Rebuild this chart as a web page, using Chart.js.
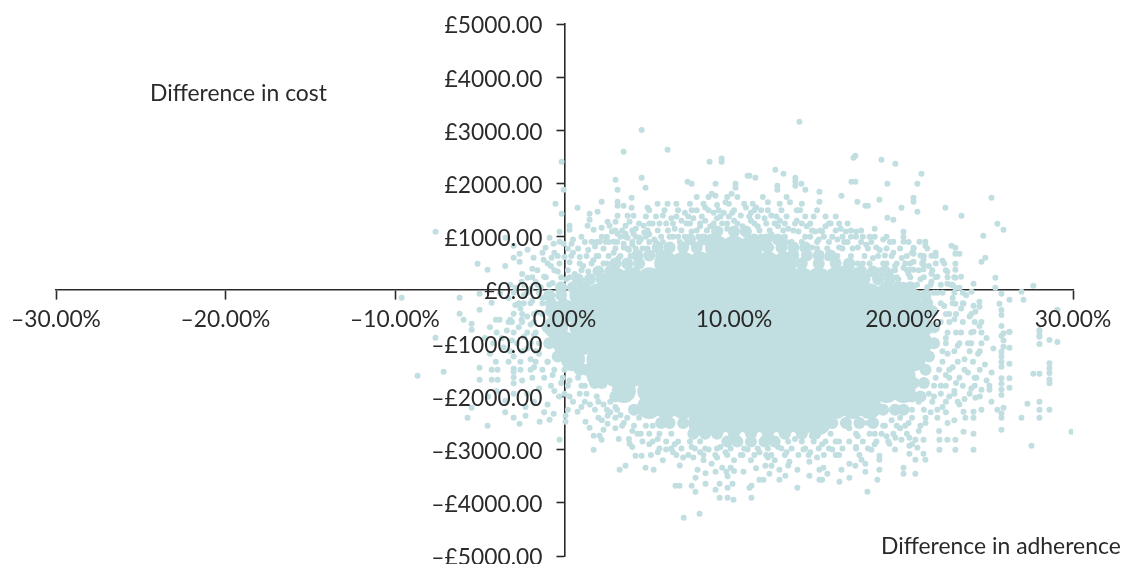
<!DOCTYPE html>
<html><head><meta charset="utf-8">
<style>html,body{margin:0;padding:0;background:#fff;overflow:hidden}canvas{display:block}</style>
<script src="https://cdn.jsdelivr.net/npm/chart.js@4/dist/chart.umd.min.js"></script>
</head><body><canvas id="c" width="1123" height="564"></canvas>
<script>
const xTickLabels=["–30.00%","–20.00%","–10.00%","0.00%","10.00%","20.00%","30.00%"];
const yTickLabels=["–£5000.00","–£4000.00","–£3000.00","–£2000.00","–£1000.00","£0.00","£1000.00","£2000.00","£3000.00","£4000.00","£5000.00"];
const xAxisName="Difference in adherence";
const yAxisName="Difference in cost";
// dense body of the cloud, read row by row: [cost difference, adherence differences]
const denseRows=[
[800,[9,10,11]],
[500,[6,7,8,9,10,11,12,13]],
[200,[3,4,5,6,7,8,9,10,11,12,13,14,15,16,17]],
[-100,[1,2,3,4,5,6,7,8,9,10,11,12,13,14,15,16,17,18,19,20]],
[-400,[0,1,2,3,4,5,6,7,8,9,10,11,12,13,14,15,16,17,18,19,20,21]],
[-700,[-0.5,1,2,3,4,5,6,7,8,9,10,11,12,13,14,15,16,17,18,19,20,21]],
[-1000,[0,1,2,3,4,5,6,7,8,9,10,11,12,13,14,15,16,17,18,19,20,21]],
[-1300,[0.5,2,3,4,5,6,7,8,9,10,11,12,13,14,15,16,17,18,19,20,20.6]],
[-1600,[2,3,4,5,6,7,8,9,10,11,12,13,14,15,16,17,18,19,20]],
[-1900,[3.5,5,6,7,8,9,10,11,12,13,14,15,16,17,18,19,20]],
[-2200,[5,6,7,8,9,10,11,12,13,14,15,16,17,18]],
[-2500,[8,9,10,11,12,13,14,15]]
];
// rim of the dense body, same layout
const rimRows=[
[1100,[9,10,10.7]],
[950,[7.4,8.2,11.2,11.9,12.6]],
[800,[5.5,6.2,7,7.8,12,12.8,13.5,14.2]],
[650,[4.3,5,5.7,13.5,14.3,15,15.7]],
[500,[3,3.7,4.4,14,15,16,16.8]],
[350,[2,2.7,16.5,17.5,18.2,18.9]],
[200,[0.8,1.5,2.2,17.7,18.5,19.2]],
[50,[-0.2,0.5,1.2,19,19.7,20.4]],
[-100,[-0.9,-0.2,20.7,21.3]],
[-250,[-0.8,21.4]],
[-400,[-0.8,21.7]],
[-700,[-1,21.8]],
[-1000,[-0.9,21.8]],
[-1250,[-0.4,21.5]],
[-1500,[0.9,1.3,21.3]],
[-1750,[1.8,2.2,20.6,21.2]],
[-2000,[3,3.5,20.5,21]],
[-2250,[4.1,4.6,5.2,18.8,19.5,20]],
[-2500,[5.7,6.2,7,15.8,16.6,17.4,18.2]],
[-2700,[7.6,8.3,9,10,11,12,13,14,14.8]],
[-2850,[9.6,10.2,11,11.8,12.4]]
];
// thick scatter around the rim, same layout
const fringeRows=[
[1750,[7.8,8.5,9.6,11.7,13.1]],
[1620,[6.6,7.4,8.2,9.7,10.6,11.1,12.7,14]],
[1500,[5,5.9,6.7,7.5,8.5,9.1,10,11.2,12,13.7,14.9]],
[1380,[4.8,5.4,6.6,7.3,8.1,9.2,9.7,10.9,11.4,12.5,13.1,14.2,14.7,15.4,16]],
[1250,[4.4,5,5.6,6.4,7.4,8,8.8,9.6,10.2,11.2,11.9,12.4,13,13.6,14,14.5,15.6,16.2]],
[1120,[3,3.4,4,4.9,5.5,6.1,6.9,7.8,8.4,9.2,10.7,11.5,12.1,12.9,13.5,14.6,15.1,16,16.9,17.5]],
[1000,[2.5,3.6,4.2,4.8,5.7,6.4,7.1,8.6,11.6,12.3,14.5,15.3,16.4,17.2,18.3,19]],
[900,[1.2,1.9,2.6,3.1,4,4.4,5,5.4,6.8,13.1,14,14.9,15.6,16.7,17.5,18.1,19.2,20.3]],
[780,[0.2,0.8,2.3,3,3.7,4.2,4.9,14.9,15.5,16.4,17,17.9,19,19.8,20.6,21.4]],
[640,[-0.4,0.4,1.3,1.9,2.6,3.3,3.9,16.1,16.9,17.7,18.5,19.3,20.2,21.2,21.9]],
[500,[-1,-0.3,0.9,1.6,2.3,17.3,18,18.8,19.6,20.4,21.1,21.9,22.4]],
[370,[-1.6,-0.6,0.2,1,18.6,19.5,20.2,20.9,21.7,22.5]],
[240,[-1.9,-1.1,-0.2,0.3,19.6,20.4,21.2,21.9,22.6,23]],
[100,[-2.4,-1.6,-0.9,20.8,21.6,22.2,22.9]],
[-50,[-3,-2.2,-1.5,21.8,22.3,23,23.5]],
[-250,[-2.7,-2,-1.3,22.2,22.9,23.5]],
[-450,[-2.5,-1.8,-1.3,22.5,23.1,24]],
[-600,[-3.1,-2.5,-1.8,22.7,23.5,24.2]],
[-800,[-3,-2.2,-1.7,22.6,23.1,24,24.6]],
[-1000,[-2.8,-2,22.5,23.3,23.8,24.6]],
[-1150,[-3.2,-2.5,-1.7,22.3,23,23.9,24.5]],
[-1350,[-2.6,-1.7,-1,22.3,23.2,24.1]],
[-1500,[-2,-0.6,0,22.1,22.7,23.6,24.5]],
[-1650,[-1.2,-0.1,0.8,21.9,22.7,23.3,24.2]],
[-1800,[-0.8,0.2,1,21.8,22.5,23.5,24.2]],
[-1950,[0,1.3,21.5,22.2,23,23.9]],
[-2100,[0.5,1.2,2,2.7,20.9,21.7,22.5,23.2]],
[-2250,[1.8,2.5,3.1,20.5,21.2,22]],
[-2400,[2,3,3.7,4.4,19.8,20.5,21.3]],
[-2550,[3.4,4.1,4.8,5.2,18.9,19.6,20.1,21]],
[-2700,[4.3,5,5.6,6.3,17.2,18,18.7,19.4,20.2]],
[-2850,[4.6,5.2,6,6.7,7.4,8,13.2,14,14.7,15.4,16,16.8,17.6,18.4,19.1]],
[-2980,[5.6,6.3,6.9,7.7,8.3,9,9.8,10.6,11.4,12,12.8,13.4,14.2,15,15.6,16.4,17.2,17.9]],
[-3100,[6.6,7.3,8.2,8.9,9.6,10.4,11.2,11.9,13,13.8,14.4,15.3,16.2]]
];
// individually visible simulations: adherence %, cost £
const outerPoints=[
[4.55,3007],[3.49,2600],[6.08,2637],[8.56,2412],[9.27,2474],[9.27,2412],[-0.17,2412],[-0.05,1885],[3.01,2073],[3.13,1885],[4.55,2111],[4.78,1923],[3.96,1735],[7.26,2036],[7.5,1998],[8.91,1998],[10.09,1998],[10.09,1923],[10.8,2149],[8.68,1810],[8.91,1773],[9.86,1810],[-0.53,1622],[0.77,1547],[2.19,1660],[3.13,1660],[3.13,1585],[3.49,1585],[3.96,1547],[4.9,1547],[5.49,1622],[6.08,1622],[1.95,1472],[1.48,1434],[1.48,1321],[-0.17,1434],[0.3,1209],[0.3,1133],[1.36,1209],[2.19,1171],[1.72,1133],[2.54,1284],[2.66,1209],[3.01,1284],[3.13,1397],[3.72,1397],[4.07,1397],[3.84,1284],[3.6,1209],[4.67,1209],[-7.61,1096],[-0.29,1096],[3.13,1058],[3.6,1058],[4.07,1058],[4.43,983],[3.72,983],[1.6,908],[2.07,908],[2.42,908],[2.9,908],[3.49,870],[-3.48,983],[-0.88,983],[-0.64,870],[-0.29,908],[-0.05,870],[0.42,870],[-3,833],[-1.12,795],[-2.18,757],[-2.65,682],[-3,607],[-1.82,607],[-0.76,607],[-1.23,570],[-2.65,532],[-5.13,494],[-4.54,382],[-2.18,231],[-2.53,156],[-2.89,43],[-6.19,-145],[-9.61,-145],[-5.01,-70],[-6.19,-445],[-5.95,-558],[-5.01,-370],[-5.48,-634],[-5.48,-746],[-3.83,-558],[-4.05,-558],[-3,-445],[-2.53,-558],
[-8.67,-1610],[-7.13,-1535],[-7.61,-896],[-5.01,-1460],[-5.01,-1686],[-4.3,-1686],[-3.95,-1686],[-4.05,-1350],[-3.95,-1498],[-3,-1535],[-3,-1640],[-3,-1755],[-5.48,-2212],[-5.72,-2400],[-4.54,-2550],[-3,-2400],[-2.65,-2513],[-2.3,-2362],[-1.47,-2475],[-0.88,-2438],[-0.64,-2325],[0.06,-2475],[0.06,-2362],[-0.29,-2813],[1.72,-3002],[0.77,-2287],[1.24,-2475],[1.48,-2588],[1.72,-2738],[2.07,-2738],[2.19,-2813],[2.54,-2513],[2.54,-2362],[2.3,-2626],[3.25,-3377],[3.6,-3302],[4.19,-3114],[4.55,-3114],[3.84,-2889],[4.78,-3340],[5.26,-3377],[6.55,-3678],[6.79,-3678],[7.5,-3678],[7.73,-3791],[7.73,-3528],[7.85,-3377],[7.03,-4280],[7.97,-4205],[8.32,-3641],[8.32,-3446],[8.91,-3754],[9.15,-3904],[9.62,-3904],[9.97,-3941],[9.15,-3641],[9.62,-3716],[9.62,-3500],[8.68,-3265],[8.91,-3415],[9.3,-3340],[9.55,-3415],[9.8,-3340],[9.91,-3641],[10.56,-3415],[10.91,-3716],
[11.03,-3904],[11.03,-3678],[11.5,-3565],[11.74,-3565],[12.09,-3453],[11.85,-3302],[12.21,-3302],[12.68,-3565],[13.03,-3490],[12.68,-3377],[13.74,-3716],[13.27,-3227],[13.74,-3377],[14.45,-3490],[14.45,-3227],[15.04,-3565],[15.2,-3565],[15.04,-3377],[15.28,-3340],[15.51,-3453],[16.22,-3603],[16.34,-3377],[16.81,-3528],[16.81,-3265],[17.16,-3302],[17.87,-3791],[17.75,-3415],[17.75,-3265],[17.52,-3190],[18.46,-3565],[18.58,-3377],[18.58,-3190],[18.58,-3114],[18.11,-3002],[20,-3453],[20,-3340],[20.7,-3453],[20.7,-3190],[21.29,-3190],[20.35,-3077],[21.18,-3077],[20.35,-2926],[20.82,-2964],[19.17,-2889],[19.52,-2776],[19.88,-2813],[20.35,-2776],[20.7,-2813],[21.18,-2813],[22.12,-3002],[23.06,-3002],[24.13,-3002],[22.12,-2813],[22.59,-2813],[23.06,-2813],[23.54,-2663],[24.13,-2701],[25.78,-2626],[27.55,-2926],[29.91,-2663],[26.96,-2400],[27.31,-2137],[28.02,-2099],[28.02,-2250],[28.02,-2400],[28.61,-2250],[27.66,-1573],[28.02,-1573],[28.61,-1379],[28.61,-1470],[28.61,-1560],[28.61,-1755],[28.61,-1680],[28.02,-1015],[28.02,-880],[28.02,-785],[28.61,-940],[29.08,-978],[25.78,-2400],[25.78,-2320],[25.54,-2250],[25.9,-2212],[24.6,-2250],[24.13,-2287],[24.13,-2400],[23.65,-2400],[23.54,-2287],[25.19,-2099],[24.24,-2024],[24.6,-1874],[25.07,-1874],[25.07,-1800],[25.78,-1160],[25.78,-1250],[25.78,-1350],[25.78,-1441],[25.78,-1660],[25.78,-1760],[25.78,-1870],[25.78,-1974],[26.25,-1084],[26.25,-1385],[26.25,-1660],[26.25,-1836],[25.9,-815],[25.9,-950],[25.9,-1065],[26.25,-785],
[13.86,3164],[17.16,2525],[17.05,2487],[18.7,2449],[19.52,2374],[21.06,2186],[20.82,1998],[19.05,1998],[16.93,2036],[17.16,2036],[12.44,2261],[12.92,2186],[13.62,2111],[13.62,2040],[13.62,1961],[13.98,1998],[14.21,1885],[11.26,2111],[10.91,2149],[12.56,1961],[12.56,1885],[15.04,1848],[15.04,1660],[16.34,1773],[17.28,1660],[17.75,1585],[17.9,1585],[18.58,1697],[20.59,1735],[20.59,1660],[19.88,1547],[20.82,1472],[22.47,1547],[23.42,1397],[25.19,1735],[25.54,1246],[25.9,1133],[24.71,1021],[24.83,607],[24.6,532],[19.05,1359],[19.4,1321],[20,1096],[20,1000],[20,908],[19.4,908],[20.94,908],[21.29,908],[21.29,833],[20.59,795],[20.59,682],[20.59,532],[22.83,833],[23.06,795],[23.06,682],[23.3,682],[21.65,645],[21.18,570],[21.18,480],[21.18,390],[23.06,494],[23.06,382],[23.06,231],[22.59,344],[22.59,118],[23.06,43],[23.3,43],[21.65,306],[21.65,156],[20,419],[20.35,382],[20.59,382],[24.13,118],[25.42,231],[25.42,43],[27.66,81],[24.01,-32],[25.78,-70],[26.96,-32],[26.25,-182],[27.08,-182],[29.08,-370],[28.02,-752],[28.02,-860],[25.66,-258],[25.78,-377],[25.78,-470],[25.78,-677],[25.78,-860],[26.25,-790],[24.48,-220],[24.48,-314],[24.24,-408],[24.13,-295],[24.48,-677],[24.13,-784],[23.54,-258],[23.06,-258]
];
// ragged edge of the dense body
const edgePoints=[
[0.5,700],[0.9,620],[0.3,520],[1.1,450],[1.7,560],[2,640],[2.5,500],[2.9,700],[3.2,600],[3.5,800],[1.4,350],[0.6,300],[0.1,200],[-0.4,350],[-0.8,450],[-1.2,250],[-1.7,150],[-1.4,50],[-0.7,130],[-2,20],[-2.4,-100],[-1.9,-200],[-1.3,-150],[-2.9,-280],[-2.6,-350],[-3.2,-560],[-2.2,-500],[-1.6,-420],[-2,-650],[-2.7,-700],[-3.4,-760],[-4,-800],[-3.7,-900],[-3.1,-950],[-2.4,-880],[-1.8,-850],[-1.5,-1000],[-2.2,-1100],[-3,-1250],[-3.6,-1080],[-4.2,-1000],[-4.4,-1200],[-2,-1300],[-1.5,-1200],[-1,-1350],[-1.3,-1500],[-0.7,-1600],[-1.9,-1650],[-2.5,-1700],[-3,-1480],[-0.2,-1750],[0.3,-1700],[-0.6,-1900],[-1.5,-1850],[-2.2,-1950],[-3,-1950],[-4,-1900],[-4.5,-2000],[-3.5,-2080],[-1.8,-2100],[-1,-2150],[-0.3,-2000],[0.3,-2000],[0.9,-1950],[1.5,-2150],[1.9,-2000],[2.3,-2150],[3,-2200],[1.2,-1800],
[4,850],[4.5,950],[5,1050],[5.5,800],[5.8,900],[6.2,1000],[6.5,1150],[6.9,1300],[7.2,1250],[7.5,1100],[7.9,1000],[8.3,1300],[8.6,1200],[9,1350],[9.3,1250],[9.6,1150],[5.2,1250],[5.8,1400],[6.3,1350],[7.8,1500],[8.3,1550],[8.8,1450],[9.9,1450],[10.4,1400],[10.7,1550],[11,1300],[11.4,1200],[11.8,1350],[12.2,1050],[12.6,1200],[13,1000],[13.4,900],[13.8,1100],[14.2,1000],[14.6,800],[15,950],[15.4,1200],[15.8,1000],[16.2,800],[16.5,900],[16.9,1000],[17.3,800],[17.8,850],[18.2,600],[18.6,750],[19,500],[19.3,350],[19.7,200],[20,100],[20.4,-50],[17.6,500],[18,300],[16.6,500],[15.5,600],[14.2,650],[13.5,750],[12.2,800],[11.3,1550],[12,1650],[12.8,1500],[13.3,1650],[13.9,1500],[9.5,1650],[9,1600],[10.2,1750],[15.2,1100],[16.3,1150],[16.7,1250],[18.3,1150],[18.8,950],[19.4,700],[19.9,600],[20.3,300],[21,200],[21.4,50],[22,-50],[22.4,-300],[22.7,-450],[22.2,-600],[23,-550],[23.4,-800],[22.5,-900],[23.2,-1050],[24,-1000],[24.4,-1200],[23.6,-1300],[22.6,-1200],[22.9,-1450],[23.8,-1550],[24.3,-1650],[24,-1850],[23.1,-1750],[22.5,-1600],[22.2,-1800],[22.7,-2000],[23.3,-2150],[22.3,-2200],[21.8,-2000],[21.6,-2300],[22,-2400],[22.6,-2500],[21.3,-2500],[20.9,-2650],[20.3,-2500],[19.8,-2600],[19.3,-2450],[18.8,-2550],[18.3,-2700],[17.9,-2500],[17.3,-2750],[16.8,-2600],[16.2,-2850],[15.7,-2700],[15.2,-2900],[14.6,-2750],[14.1,-3000],[13.6,-2800],[13.1,-3050],[12.6,-2950],[12,-3150],[11.5,-3050],[11,-3200],[10.5,-3100],[10,-3200],[9.5,-3050],[9,-3150],[8.5,-3000],[8,-3050],[7.5,-2950],[7,-3150],[6.5,-2900],[6,-3000],[5.5,-2800],[5,-2900],[4.5,-2700],[4,-2650],[3.5,-2500],[3,-2600],[3.3,-2350],[4,-2950],[5.5,-3050],[6.8,-3300],[8.2,-3200],[10,-3400],[11.3,-3350],[12.4,-3200],[14.9,-3150],[16,-3100],[17.2,-2950],[18.3,-2900],[19,-2750],
[4.2,1150],[4.7,1080],[3.3,1000],[2.8,1100],[2.2,1000],[1.8,820],[1,1000],[3.8,750],[4.6,780],[5.3,950],[6,1250],[6.7,1000],[7.1,1450],[7.6,1350],[8,1200],[8.9,1150],[9.4,1450],[10,1300],[10.5,1200],[11,1450],[11.6,1500],[12.2,1400],[12.7,1300],[13.2,1150],[13.7,1300],[14.3,1200],[14.8,1100],[15.7,1250],[16.1,950],[16.6,1100],[17.2,1100],[17.6,1000],[18,1000],[18.4,800],[18.9,650],[19.5,450],[20.1,500],[20.5,700],[21,650],[21.5,450],[22,250],[22.3,550],[21.9,700],[22.8,100],[23.4,250],[23.7,-100],[22.9,-150],[23.4,-350],[23.9,-500],[24.6,-600],[24.9,-900],[25.3,-1100],[24.8,-1400],[25.2,-1550],[24.9,-1700],[24.5,-2000],[23.6,-2050],[23,-1900],[22.5,-2300],[23,-2450],[22.1,-2650],[20.5,-2900],[19.5,-3000],[17.4,-3100],[15.8,-3000],[14.5,-3050],[13.2,-3300],[12.2,-3100],[10.8,-3000],[9.2,-2950],[7.6,-3150],[6.4,-3050],[5.8,-3200],[5.1,-3100],[3.8,-2800],[3.2,-2800],[2.7,-2300],[2.2,-2450],[1,-2200],[0.2,-2250],[-1.2,-2300],[-2.3,-2200],[-3.5,-2300],[-4.3,-1500],[-3.3,-1350],[-2.6,-1500],[-1.8,-1450],[-4.7,-900],[-4.4,-700],[-3.3,-600],[-2.4,-250],[-3.3,-150],[-3.8,-60],[-4.3,-240],[-3.2,100],[-2.5,300],[-1.9,400],[-3.5,450],[-1.3,700],[-0.6,700],[0,620],[0.5,950],[1.4,750]
];
const toRowPoints=rows=>rows.flatMap(([y,xs])=>xs.map(x=>({x,y})));
const toPoint=([x,y])=>({x,y});
const dotColor="#c1dee1", inkColor="#2b2a2a", fontFamily="Lato", fontSize=22.8;
const axisNames={id:"axisNames",
 afterLayout(c){const y=c.scales.y,p=c.scales.x.getPixelForValue(0);y.left=0;y.right=p;},
 afterDraw(c){const t=c.ctx;t.save();t.font="22.9px "+fontFamily;t.fillStyle=inkColor;t.textAlign="left";t.textBaseline="alphabetic";t.fillText(yAxisName,150,101);t.fillText(xAxisName,881,554);t.restore();}};
new Chart(document.getElementById("c"),{type:"scatter",
data:{datasets:[
{data:toRowPoints(denseRows),backgroundColor:dotColor,borderWidth:0,pointRadius:12},
{data:toRowPoints(rimRows),backgroundColor:dotColor,borderWidth:0,pointRadius:6},
{data:toRowPoints(fringeRows),backgroundColor:dotColor,borderWidth:0,pointRadius:3},
{data:edgePoints.map(toPoint),backgroundColor:dotColor,borderWidth:0,pointRadius:3},
{data:outerPoints.map(toPoint),backgroundColor:dotColor,borderWidth:0,pointRadius:3}
]},
options:{responsive:false,animation:false,
layout:{autoPadding:false,padding:{left:56,right:50,top:24,bottom:8}},
plugins:{legend:{display:false},tooltip:{enabled:false}},
scales:{
x:{type:"linear",position:{y:0},min:-30,max:30,
 afterFit(s){s.paddingLeft=0;s.paddingRight=0;s.paddingTop=0;s.paddingBottom=0;},
 grid:{drawOnChartArea:false,drawTicks:true,tickLength:9,tickColor:inkColor,tickWidth:1.6,z:-1},
 border:{color:inkColor,width:1.6,z:-1},
 ticks:{stepSize:10,z:1,color:inkColor,padding:7,maxRotation:0,autoSkip:false,font:{family:fontFamily,size:fontSize},callback:(v)=>xTickLabels[(v+30)/10]}},
y:{type:"linear",position:"left",min:-5000,max:5000,
 afterFit(s){s.width=0;s.paddingTop=0;s.paddingBottom=0;},
 grid:{drawOnChartArea:false,drawTicks:true,tickLength:8,tickColor:inkColor,tickWidth:1.6,z:-1},
 border:{color:inkColor,width:1.6,z:-1},
 ticks:{stepSize:1000,z:1,color:inkColor,padding:14,labelOffset:2,autoSkip:false,font:{family:fontFamily,size:fontSize},callback:(v)=>yTickLabels[(v+5000)/1000]}}
}},plugins:[axisNames]});
</script></body></html>
